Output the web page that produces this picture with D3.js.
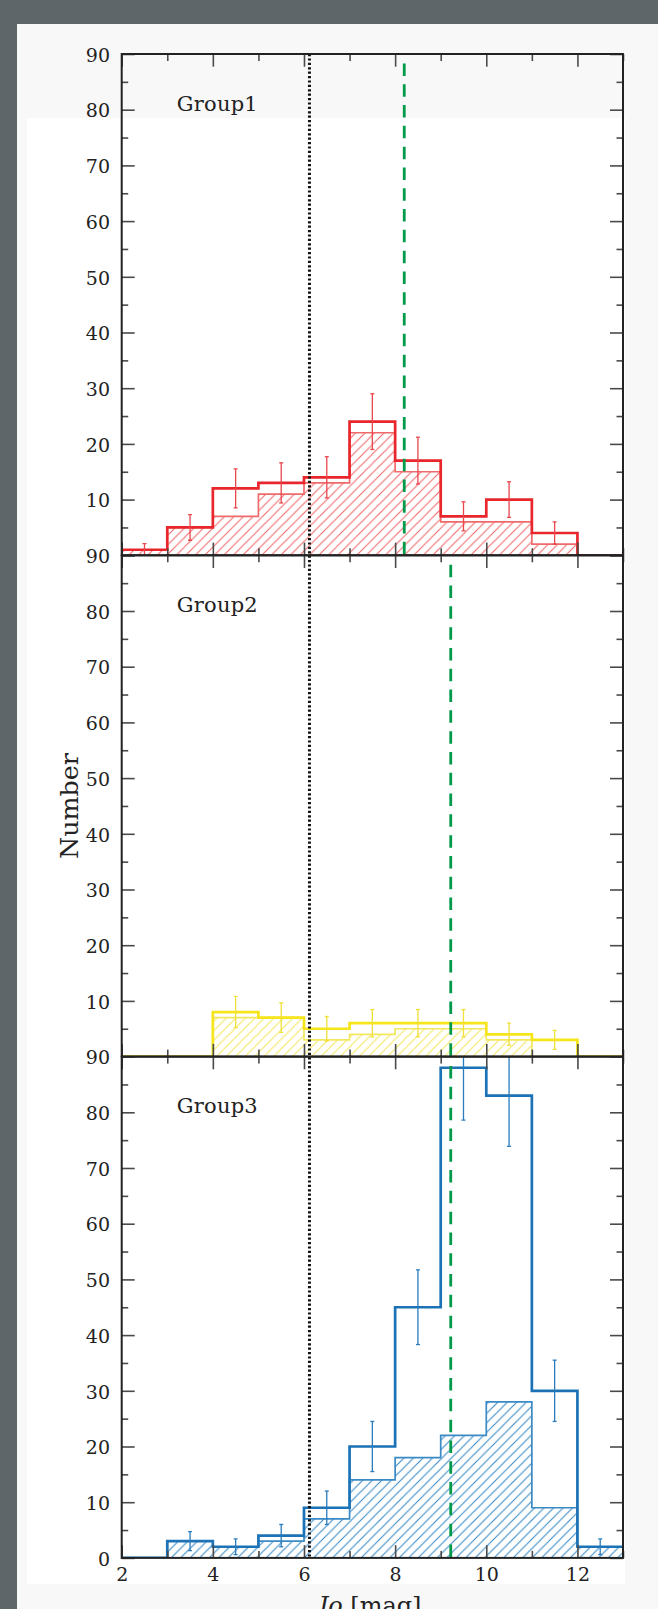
<!DOCTYPE html>
<html>
<head>
<meta charset="utf-8">
<script src="https://cdn.jsdelivr.net/npm/d3@7"></script>
<style>
  body { margin: 0; background: #5f6669; }
  svg { display: block; }
</style>
</head>
<body>
<svg id="chart" width="658" height="1609"></svg>
<script>
// histogram bin edges (Jo magnitude), one bin per magnitude
const binEdges = [2, 3, 4, 5, 6, 7, 8, 9, 10, 11, 12, 13];
const groupNames = ["Group1", "Group2", "Group3"];

// outer (all) histogram, hatched sub-sample and error bars
const group1Total = [1, 5, 12, 13, 14, 24, 17, 7, 10, 4, 0];
const group1Sub   = [1, 5, 7, 11, 13, 22, 15, 6, 6, 2, 0];
const group1Err   = [1.1, 2.3, 3.5, 3.6, 3.7, 5.0, 4.2, 2.6, 3.2, 2.0, 0];

const group2Total = [0, 0, 8, 7, 5, 6, 6, 6, 4, 3, 0];
const group2Sub   = [0, 0, 7, 7, 3, 4, 5, 5, 3, 0, 0];
const group2Err   = [0, 0, 2.8, 2.65, 2.2, 2.45, 2.45, 2.45, 2.0, 1.7, 0];

const group3Total = [0, 3, 2, 4, 9, 20, 45, 88, 83, 30, 2];
const group3Sub   = [0, 3, 2, 3, 7, 14, 18, 22, 28, 9, 2];
const group3Err   = [0, 1.7, 1.4, 2.0, 3.0, 4.5, 6.7, 9.4, 9.1, 5.5, 1.4];

const yTickLabels = [0, 10, 20, 30, 40, 50, 60, 70, 80, 90];
const xTickLabels = [2, 4, 6, 8, 10, 12];
const dottedLineX = 6.12;
const dashedLineX = [8.2, 9.22, 9.22];
const dashedLineTop = 88.3;

const groupColors = ["#e8262b", "#f5e51a", "#1b72b6"];
const hatchColors = ["#f06a6c", "#f3e760", "#3a8ac6"];
const errColors   = ["#e9474c", "#f1df3a", "#2a7cbd"];

const panels = [
  {name: groupNames[0], total: group1Total, sub: group1Sub, err: group1Err},
  {name: groupNames[1], total: group2Total, sub: group2Sub, err: group2Err},
  {name: groupNames[2], total: group3Total, sub: group3Sub, err: group3Err}
];

const svg = d3.select("#chart");
const font = "DejaVu Serif, serif";

// page background: light slide + white inner sheet
svg.append("rect").attr("x", 17).attr("y", 24).attr("width", 641).attr("height", 1585).attr("fill", "#f8f8f8");
svg.append("rect").attr("x", 27).attr("y", 118).attr("width", 598).attr("height", 1466).attr("fill", "#ffffff");

const left = 121.7, right = 623;
const top0 = 54, panelH = 501.3;

const x = d3.scaleLinear().domain([2, 13]).range([left, right]);

const defs = svg.append("defs");
groupColors.forEach((c, i) => {
  const p = defs.append("pattern")
    .attr("id", "hatch" + i)
    .attr("patternUnits", "userSpaceOnUse")
    .attr("width", 9.5).attr("height", 9.5);
  p.append("path")
    .attr("d", "M-2,2 l4,-4 M0,9.5 l9.5,-9.5 M7.5,11.5 l4,-4")
    .attr("stroke", hatchColors[i])
    .attr("stroke-width", 1.1);
});

const scales = panels.map((d, i) => {
  const t = top0 + i * panelH;
  return d3.scaleLinear().domain([0, 90]).range([t + panelH, t]);
});

panels.forEach((g, i) => {
  const y = scales[i];
  const t = top0 + i * panelH;

  defs.append("clipPath").attr("id", "clip" + i)
    .append("rect").attr("x", left).attr("y", t).attr("width", right - left).attr("height", panelH);

  const layer = svg.append("g").attr("clip-path", `url(#clip${i})`);

  const pts = vals => binEdges.map((e, k) => [e, vals[Math.min(k, vals.length - 1)]]);

  const area = d3.area()
    .x(d => x(d[0])).y0(y(0)).y1(d => y(d[1]))
    .curve(d3.curveStepAfter);
  const line = d3.line()
    .x(d => x(d[0])).y(d => y(d[1]))
    .curve(d3.curveStepAfter);

  layer.append("path").attr("d", area(pts(g.sub))).attr("fill", `url(#hatch${i})`);
  layer.append("path").attr("d", line(pts(g.sub)))
    .attr("fill", "none").attr("stroke", hatchColors[i]).attr("stroke-width", 1.7);
  layer.append("path").attr("d", line(pts(g.total)))
    .attr("fill", "none").attr("stroke", groupColors[i]).attr("stroke-width", 2.7);

  // error bars at bin centres
  const bars = g.total.map((v, k) => ({c: binEdges[k] + 0.5, v: v, e: g.err[k]})).filter(d => d.e > 0);
  const eb = layer.selectAll(".err" + i).data(bars).enter().append("g")
    .attr("stroke", errColors[i]).attr("stroke-width", 1.3);
  eb.append("line")
    .attr("x1", d => x(d.c)).attr("x2", d => x(d.c))
    .attr("y1", d => y(d.v + d.e)).attr("y2", d => y(Math.max(0, d.v - d.e)));
  eb.append("line")
    .attr("x1", d => x(d.c) - 2).attr("x2", d => x(d.c) + 2)
    .attr("y1", d => y(d.v + d.e)).attr("y2", d => y(d.v + d.e));
  eb.append("line")
    .attr("x1", d => x(d.c) - 2).attr("x2", d => x(d.c) + 2)
    .attr("y1", d => y(Math.max(0, d.v - d.e))).attr("y2", d => y(Math.max(0, d.v - d.e)));

  // green dashed line
  svg.append("line")
    .attr("x1", x(dashedLineX[i])).attr("x2", x(dashedLineX[i]))
    .attr("y1", y(dashedLineTop)).attr("y2", y(0))
    .attr("stroke", "#009a4a").attr("stroke-width", 2.8)
    .attr("stroke-dasharray", "12.5,8.3");

  // group label
  svg.append("text")
    .attr("x", 176.7).attr("y", t + 56.8)
    .attr("font-family", font).attr("font-size", 21)
    .attr("textLength", 81).attr("lengthAdjust", "spacing")
    .attr("fill", "#222")
    .text(g.name);
});

// black dotted line through all panels
svg.append("line")
  .attr("x1", x(dottedLineX)).attr("x2", x(dottedLineX))
  .attr("y1", top0).attr("y2", top0 + 3 * panelH)
  .attr("stroke", "#111").attr("stroke-width", 3)
  .attr("stroke-dasharray", "2.2,2.2");

// frames, ticks and labels
const yMajor = d3.range(0, 91, 10), yMinor = d3.range(5, 90, 10);
const xMajor = d3.range(2, 14, 2), xMinor = d3.range(3, 14, 2);

function tickGroup(axis, tx, ty, len, vals) {
  const gAx = svg.append("g")
    .attr("transform", `translate(${tx},${ty})`)
    .call(axis.tickValues(vals).tickSize(len).tickFormat(""));
  gAx.select(".domain").remove();
  gAx.selectAll("line").attr("stroke", "#4a4a4a").attr("stroke-width", 1.6);
}

panels.forEach((g, i) => {
  const y = scales[i];
  const t = top0 + i * panelH;
  tickGroup(d3.axisRight(y), left, 0, 13, yMajor);
  tickGroup(d3.axisRight(y), left, 0, 6.5, yMinor);
  tickGroup(d3.axisLeft(y), right, 0, 13, yMajor);
  tickGroup(d3.axisLeft(y), right, 0, 6.5, yMinor);
  tickGroup(d3.axisBottom(x), 0, t, 12.7, xMajor);
  tickGroup(d3.axisBottom(x), 0, t, 7, xMinor);
  tickGroup(d3.axisTop(x), 0, t + panelH, 12.7, xMajor);
  tickGroup(d3.axisTop(x), 0, t + panelH, 7, xMinor);

  svg.append("rect")
    .attr("x", left).attr("y", t).attr("width", right - left).attr("height", panelH)
    .attr("fill", "none").attr("stroke", "#222").attr("stroke-width", 2);

  // the 0 of the upper panels sits under the 90 of the panel below
  const vals = i < panels.length - 1 ? yTickLabels.filter(v => v > 0) : yTickLabels;
  const lab = svg.append("g")
    .attr("transform", `translate(${left},0)`)
    .call(d3.axisLeft(y).tickValues(vals).tickSize(0).tickPadding(11.7).tickFormat(d3.format("d")));
  lab.select(".domain").remove();
  lab.selectAll("text")
    .attr("font-family", font).attr("font-size", 19).attr("fill", "#222").attr("dy", "0.38em");
});

const xl = svg.append("g")
  .attr("transform", `translate(0,${top0 + 3 * panelH})`)
  .call(d3.axisBottom(x).tickValues(xTickLabels).tickSize(0).tickPadding(10).tickFormat(d3.format("d")));
xl.select(".domain").remove();
xl.selectAll("text").attr("font-family", font).attr("font-size", 19).attr("fill", "#222");

// axis titles
svg.append("text")
  .attr("transform", "translate(78,806) rotate(-90)")
  .attr("text-anchor", "middle")
  .attr("font-family", font).attr("font-size", 25)
  .attr("textLength", 106).attr("lengthAdjust", "spacingAndGlyphs")
  .attr("fill", "#222")
  .text("Number");

const xt = svg.append("text")
  .attr("x", 370).attr("y", 1614)
  .attr("text-anchor", "middle")
  .attr("font-family", font).attr("font-size", 24)
  .attr("fill", "#222");
xt.append("tspan").attr("font-style", "italic").text("Jo");
xt.append("tspan").text(" [mag]");
</script>
</body>
</html>
